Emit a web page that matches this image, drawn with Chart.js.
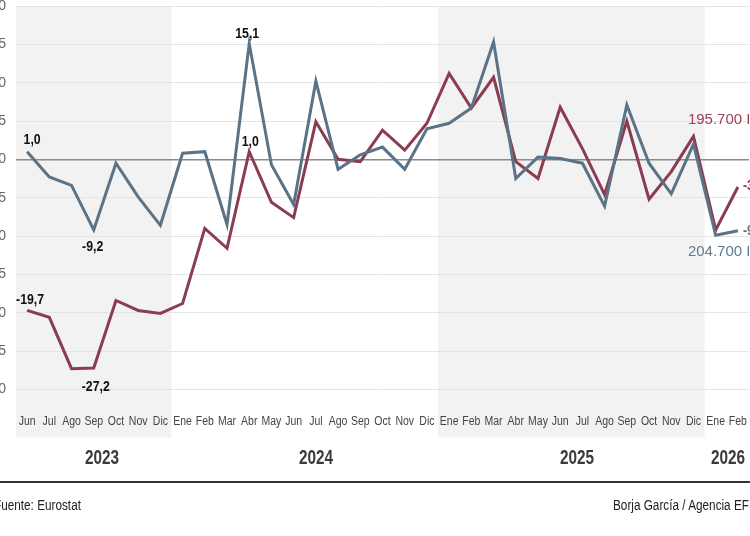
<!DOCTYPE html>
<html><head><meta charset="utf-8">
<script src="https://cdn.jsdelivr.net/npm/chart.js@4"></script>
<style>
html,body{margin:0;padding:0;width:750px;height:536px;overflow:hidden;background:#fff;}
#wrap{position:absolute;left:-40px;top:0;width:830px;height:536px;}
.yr{position:absolute;top:445px;line-height:21px;font:bold 21px "Liberation Sans",Arial,sans-serif;color:#3a3a3a;transform:translateX(-50%) scaleX(0.73);white-space:nowrap;}
#rule{position:absolute;left:0;top:481px;width:750px;height:2px;background:#333;}
.foot{position:absolute;top:497px;line-height:14px;font:14px "Liberation Sans",Arial,sans-serif;color:#222;white-space:nowrap;transform-origin:0 0;transform:scaleX(0.84);}
</style></head>
<body>
<div id="wrap"><canvas id="c"></canvas></div>
<div class="yr" style="left:102px">2023</div>
<div class="yr" style="left:316px">2024</div>
<div class="yr" style="left:577px">2025</div>
<div class="yr" style="left:728px">2026</div>
<div id="rule"></div>
<div class="foot" style="left:-6px">Fuente: Eurostat</div>
<div class="foot" style="left:613px">Borja García / Agencia EFE</div>
<script>
const months = ['Jun','Jul','Ago','Sep','Oct','Nov','Dic',
  'Ene','Feb','Mar','Abr','May','Jun','Jul','Ago','Sep','Oct','Nov','Dic',
  'Ene','Feb','Mar','Abr','May','Jun','Jul','Ago','Sep','Oct','Nov','Dic',
  'Ene','Feb'];
const blueSeries = [1.0,-2.3,-3.4,-9.2,-0.5,-4.9,-8.6,
  0.8,1.0,-8.5,15.1,-0.7,-5.9,10.2,-1.3,0.6,1.6,-1.3,4.0,
  4.7,6.7,15.3,-2.5,0.3,0.1,-0.5,-6.1,7.1,-0.5,-4.5,2.0,
  -9.9,-9.3];
const redSeries = [-19.7,-20.6,-27.3,-27.2,-18.4,-19.7,-20.1,
  -18.8,-9.0,-11.6,1.0,-5.6,-7.6,4.9,0.0,-0.3,3.8,1.2,4.7,
  11.2,6.7,10.7,-0.3,-2.5,6.8,1.4,-4.6,5.0,-5.2,-1.6,3.0,
  -9.2,-3.6];
const yTicks = [-30,-25,-20,-15,-10,-5,0,5,10,15,20];
const blueTotal = '204.700 I';
const redTotal = '195.700 I';
const shadedRanges = [[0,6],[19,30]];
const notes = [
  {ds:0,i:0,dx:5,dy:-12},{ds:0,i:3,dx:-1,dy:17},{ds:0,i:10,dx:-2,dy:-10},
  {ds:1,i:0,dx:3,dy:-10},{ds:1,i:3,dx:2,dy:19},{ds:1,i:10,dx:1,dy:-10}
];
const fmt = v => v.toFixed(1).replace('.',',');
const BLUE='#5a7387', RED='#8c3c51';
const FONT='"Liberation Sans",Arial,sans-serif';

function narrowText(ctx, text, x, y, sx){
  ctx.save(); ctx.translate(x,y); ctx.scale(sx,1); ctx.fillText(text,0,0); ctx.restore();
}

const decor = {
  id:'decor',
  beforeDraw(chart){
    const {ctx, chartArea:a, scales:{x}} = chart;
    const step = x.getPixelForValue(1)-x.getPixelForValue(0);
    ctx.save(); ctx.fillStyle='#f2f2f2';
    shadedRanges.forEach(([s,e])=>{
      const x0=x.getPixelForValue(s)-step/2, x1=x.getPixelForValue(e)+step/2;
      ctx.fillRect(x0,a.top,x1-x0,a.bottom-a.top+48);
    });
    ctx.restore();
  },
  afterDatasetsDraw(chart){
    const {ctx, chartArea:a, scales:{x,y}} = chart;
    ctx.save();
    ctx.textAlign='center'; ctx.textBaseline='middle';
    ctx.font='12.5px '+FONT; ctx.fillStyle='#444';
    chart.data.labels.forEach((lab,i)=>narrowText(ctx, lab, x.getPixelForValue(i), a.bottom+32.5, 0.84));
    ctx.font='bold 14.5px '+FONT; ctx.fillStyle='#111';
    notes.forEach(n=>{
      const v = chart.data.datasets[n.ds].data[n.i];
      narrowText(ctx, fmt(v), x.getPixelForValue(n.i)+n.dx, y.getPixelForValue(v)+n.dy, 0.85);
    });
    const last = months.length-1;
    const lx = x.getPixelForValue(last);
    ctx.textAlign='left';
    ctx.fillStyle=RED; narrowText(ctx, fmt(redSeries[last]), lx+5, y.getPixelForValue(redSeries[last])-1, 0.85);
    ctx.fillStyle=BLUE; narrowText(ctx, fmt(blueSeries[last]), lx+5, y.getPixelForValue(blueSeries[last]), 0.85);
    ctx.font='15px '+FONT;
    ctx.fillStyle='#9a4258'; ctx.fillText(redTotal, lx-50, y.getPixelForValue(5.1));
    ctx.fillStyle='#5f7b90'; ctx.fillText(blueTotal, lx-50, y.getPixelForValue(-12.0));
    ctx.restore();
  }
};

new Chart(document.getElementById('c'), {
  type:'line',
  data:{labels:months, datasets:[
    {label:'Serie 204.700', data:blueSeries, borderColor:BLUE, borderWidth:3, pointRadius:0, tension:0, fill:false},
    {label:'Serie 195.700', data:redSeries, borderColor:RED, borderWidth:3, pointRadius:0, tension:0, fill:false}
  ]},
  options:{
    responsive:true, maintainAspectRatio:false, animation:false,
    layout:{padding:{top:6,right:41,left:0,bottom:0}},
    plugins:{legend:{display:false}, tooltip:{enabled:false}},
    scales:{
      x:{offset:true, border:{display:false},
        grid:{display:false, drawTicks:false},
        ticks:{display:false},
        afterFit(s){ s.height = 146.6; s.paddingLeft = 0; s.paddingRight = 0; }
      },
      y:{min:-30, max:20, border:{display:false},
        afterBuildTicks(s){ s.ticks = yTicks.map(v=>({value:v})); },
        afterFit(s){ s.width = 56; s.paddingTop = 0; s.paddingBottom = 0; },
        grid:{drawTicks:false,
          color:c=>c.tick && c.tick.value===0 ? '#8a8a8a' : '#e4e4e4',
          lineWidth:c=>c.tick && c.tick.value===0 ? 1.6 : 1},
        ticks:{padding:10, color:'#666', font:{family:FONT, size:14}}
      }
    }
  },
  plugins:[decor]
});
</script>
</body></html>
